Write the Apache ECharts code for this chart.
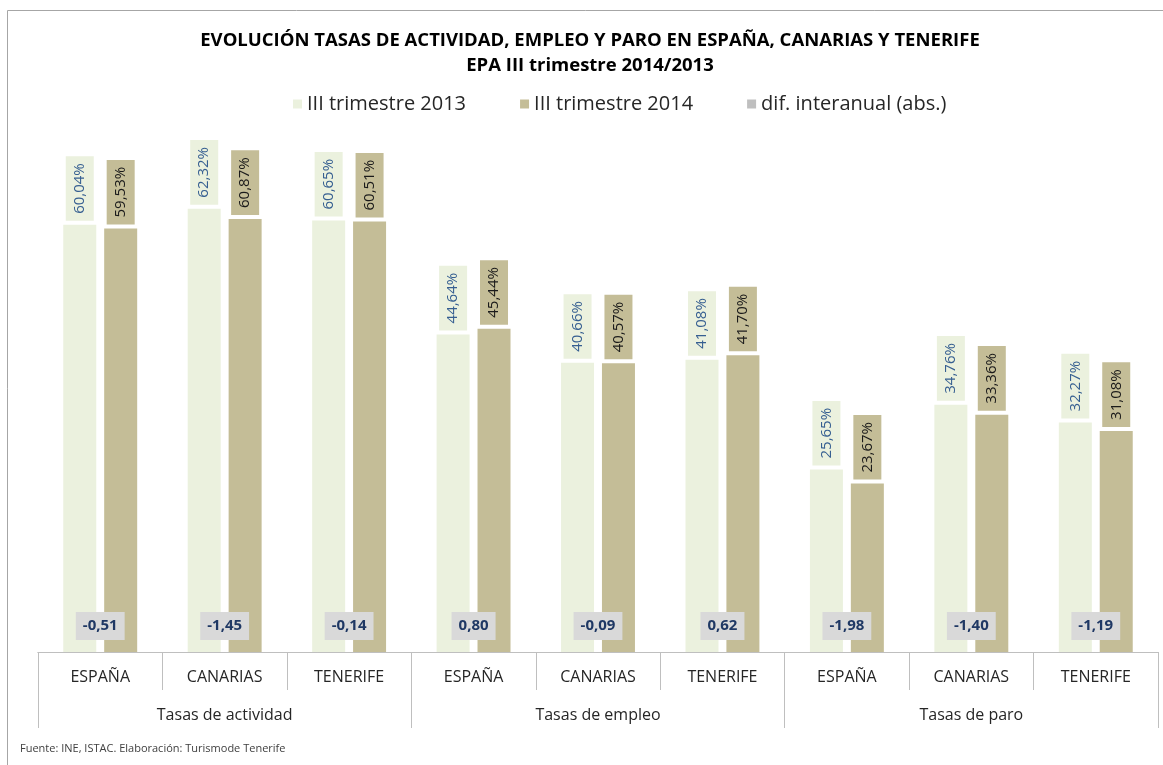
<!DOCTYPE html>
<html>
<head>
<meta charset="utf-8">
<script src="https://cdn.jsdelivr.net/npm/echarts@6/dist/echarts.min.js"></script>
<style>
	html, body { margin: 0; padding: 0; background: #fff; }
	#chart { width: 1163px; height: 765px; }
</style>
</head>
<body>
<div id="chart"></div>
<script>
	// datos EPA III trimestre
	var categorias = ['ESPAÑA', 'CANARIAS', 'TENERIFE', 'ESPAÑA', 'CANARIAS', 'TENERIFE', 'ESPAÑA', 'CANARIAS', 'TENERIFE'];
	var grupos = ['Tasas de actividad', 'Tasas de empleo', 'Tasas de paro'];
	var trim2013 = [60.04, 62.32, 60.65, 44.64, 40.66, 41.08, 25.65, 34.76, 32.27];
	var trim2014 = [59.53, 60.87, 60.51, 45.44, 40.57, 41.70, 23.67, 33.36, 31.08];
	var difInteranual = [-0.51, -1.45, -0.14, 0.80, -0.09, 0.62, -1.98, -1.40, -1.19];

	var fuente = 'Open Sans';
	var gris = '#BFBFBF';

	function coma(v, dec) {
		return v.toFixed(dec).replace('.', ',');
	}

	function etiquetaBarra(color, fondo) {
		return {
			show: true,
			position: 'top',
			rotate: 90,
			align: 'left',
			verticalAlign: 'middle',
			distance: 4,
			color: color,
			backgroundColor: fondo,
			padding: [5, 7, 5, 7],
			fontFamily: fuente,
			fontSize: 15,
			lineHeight: 18,
			formatter: function(p) {
				return coma(p.value, 2) + '%';
			}
		};
	}

	var chart = echarts.init(document.getElementById('chart'));
	var option = {
		animation: false,
		title: {
			text: 'EVOLUCIÓN TASAS DE ACTIVIDAD, EMPLEO Y PARO EN ESPAÑA, CANARIAS Y TENERIFE\nEPA III trimestre 2014/2013',
			left: 590,
			textAlign: 'center',
			top: 28,
			padding: 0,
			textStyle: {
				fontFamily: fuente,
				fontSize: 18.5,
				fontWeight: 'bold',
				color: '#000',
				lineHeight: 25
			}
		},
		legend: {
			left: 288,
			top: 89,
			itemWidth: 9,
			itemHeight: 9,
			itemGap: 54,
			icon: 'rect',
			textStyle: {
				fontFamily: fuente,
				fontSize: 20,
				color: '#262626'
			},
			data: [
				{ name: 'III trimestre 2013' },
				{ name: 'III trimestre 2014' },
				{ name: 'dif. interanual (abs.)', itemStyle: { color: gris } }
			]
		},
		grid: {
			left: 38,
			right: 5,
			top: 154,
			bottom: 113
		},
		xAxis: [{
			type: 'category',
			data: categorias,
			position: 'bottom',
			axisLine: { lineStyle: { color: gris } },
			axisTick: { show: true, interval: 0, length: 38, lineStyle: { color: gris } },
			axisLabel: { interval: 0, margin: 17, fontFamily: fuente, fontSize: 16, color: '#262626' }
		}, {
			type: 'category',
			data: categorias,
			position: 'top',
			show: false
		}, {
			type: 'category',
			data: grupos,
			position: 'bottom',
			axisLine: { lineStyle: { color: gris } },
			axisTick: { show: true, interval: 0, length: 76, lineStyle: { color: gris } },
			axisLabel: { interval: 0, margin: 55, fontFamily: fuente, fontSize: 16, color: '#262626' }
		}],
		yAxis: [{
			type: 'value',
			min: 0,
			max: 70,
			show: false
		}, {
			type: 'value',
			min: -2000,
			max: 2000,
			show: false
		}],
		series: [{
			name: 'III trimestre 2013',
			type: 'bar',
			data: trim2013,
			barWidth: 33,
			barGap: '24%',
			itemStyle: { color: '#EBF1DE' },
			label: etiquetaBarra('#365F91', '#EBF1DE')
		}, {
			name: 'III trimestre 2014',
			type: 'bar',
			data: trim2014,
			barWidth: 33,
			itemStyle: { color: '#C4BD97' },
			label: etiquetaBarra('#1A1A1A', '#C4BD97')
		}, {
			// diferencia en eje secundario, solo se ve la etiqueta
			name: 'dif. interanual (abs.)',
			type: 'bar',
			data: difInteranual,
			xAxisIndex: 1,
			yAxisIndex: 1,
			barWidth: 33,
			itemStyle: { color: 'rgba(0,0,0,0)' },
			label: {
				show: true,
				position: 'inside',
				offset: [0, 223],
				color: '#1F3864',
				backgroundColor: '#D9D9D9',
				padding: [7, 7, 6, 7],
				fontFamily: fuente,
				fontSize: 15,
				fontWeight: 'bold',
				formatter: function(p) {
					return coma(p.value, 2);
				}
			}
		}],
		graphic: [{
			type: 'rect',
			shape: { x: 7.5, y: 10.5, width: 1170, height: 770 },
			style: { fill: 'none', stroke: '#A6A6A6', lineWidth: 1 },
			silent: true
		}, {
			type: 'text',
			left: 20,
			top: 743,
			style: {
				text: 'Fuente: INE, ISTAC. Elaboración: Turismode Tenerife',
				font: '11px "Open Sans"',
				fill: '#404040'
			}
		}]
	};
	chart.setOption(option);
</script>
</body>
</html>
